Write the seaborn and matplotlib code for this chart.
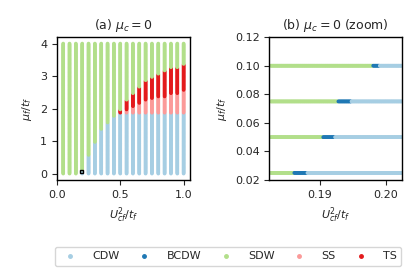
import numpy as np
import pandas as pd
import matplotlib.pyplot as plt
import seaborn as sns
from matplotlib.lines import Line2D
from matplotlib.patches import Rectangle

# phases and colours
phases = ["CDW", "BCDW", "SDW", "SS", "TS"]
colors = ["#a6cee3", "#1f78b4", "#b2df8a", "#fb9a99", "#e31a1c"]

# (a) full phase diagram: one column per U value, phase boundaries in mu
u_cols = [0.05, 0.10, 0.15, 0.20, 0.25, 0.30, 0.35, 0.40, 0.45, 0.50,
          0.55, 0.60, 0.65, 0.70, 0.75, 0.80, 0.85, 0.90, 0.95, 1.00]
cdw_top = [-1, -1, -1, 0.10, 0.55, 0.95, 1.35, 1.55, 1.75, 1.85,
           1.85, 1.85, 1.85, 1.85, 1.85, 1.85, 1.85, 1.85, 1.85, 1.85]
ss_top = [-1, -1, -1, 0.10, 0.55, 0.95, 1.35, 1.55, 1.75, 1.85,
          1.95, 2.05, 2.15, 2.25, 2.30, 2.35, 2.35, 2.45, 2.45, 2.55]
ts_top = [-1, -1, -1, 0.10, 0.55, 0.95, 1.35, 1.55, 1.75, 1.95,
          2.25, 2.45, 2.65, 2.85, 2.95, 3.05, 3.15, 3.25, 3.25, 3.35]
mu_grid = np.arange(0, 4.0001, 0.025)

# (b) zoom: rows in mu, where SDW ends and BCDW ends along U
mu_rows = [0.025, 0.050, 0.075, 0.100]
sdw_end = [0.1860, 0.1904, 0.1927, 0.1980]
bcdw_end = [0.1880, 0.1922, 0.1947, 0.1990]
u_grid = np.arange(0.1825, 0.20255, 0.0001)

rows = []
for u, c, s, t in zip(u_cols, cdw_top, ss_top, ts_top):
    for mu in mu_grid:
        if mu <= c + 1e-9:
            ph = "CDW"
        elif mu <= s + 1e-9:
            ph = "SS"
        elif mu <= t + 1e-9:
            ph = "TS"
        else:
            ph = "SDW"
        rows.append((u, mu, ph))
df_a = pd.DataFrame(rows, columns=["U", "mu", "phase"])

rows = []
for mu, a, b in zip(mu_rows, sdw_end, bcdw_end):
    for u in u_grid:
        ph = "SDW" if u < a else ("BCDW" if u < b else "CDW")
        rows.append((u, mu, ph))
df_b = pd.DataFrame(rows, columns=["U", "mu", "phase"])

sns.set_style("ticks")
plt.rcParams["font.size"] = 8

fig, (ax1, ax2) = plt.subplots(1, 2, figsize=(4.15, 2.77), dpi=100)
fig.subplots_adjust(left=0.137, right=0.969, top=0.866, bottom=0.35, wspace=0.6)

pal = dict(zip(phases, colors))
sns.scatterplot(data=df_a, x="U", y="mu", hue="phase", palette=pal,
                s=7, linewidth=0, marker="o", legend=False, ax=ax1)
ax1.add_patch(Rectangle((0.1825, 0.02), 0.02, 0.1, fill=False,
                        edgecolor="black", lw=1.0, zorder=5))
ax1.set_xticks([0.0, 0.5, 1.0])
ax1.set_yticks([0, 1, 2, 3, 4])
ax1.set_title(r"(a) $\mu_c = 0$", fontsize=9)
ax1.set_xlabel(r"$U_{cf}^2/t_f$")
ax1.set_ylabel(r"$\mu_f/t_f$")

sns.scatterplot(data=df_b, x="U", y="mu", hue="phase", palette=pal,
                s=7, linewidth=0, marker="o", legend=False, ax=ax2)
ax2.set_xlim(0.1823, 0.2025)
ax2.set_ylim(0.02, 0.12)
ax2.set_xticks([0.19, 0.20])
ax2.set_xticklabels(["0.19", "0.20"])
ax2.set_yticks([0.02, 0.04, 0.06, 0.08, 0.10, 0.12])
ax2.set_title(r"(b) $\mu_c = 0$ (zoom)", fontsize=9)
ax2.set_xlabel(r"$U_{cf}^2/t_f$")
ax2.set_ylabel(r"$\mu_f/t_f$")

for ax in (ax1, ax2):
    ax.tick_params(labelsize=8, length=3.5, width=0.8)
    for sp in ax.spines.values():
        sp.set_color("black")
        sp.set_linewidth(1.0)

handles = [Line2D([], [], marker="o", ls="", color=c, markersize=2.5) for c in colors]
fig.legend(handles, phases, loc="lower center", ncol=5, fontsize=8,
           bbox_to_anchor=(0.118, 0.02, 0.862, 0.075), mode="expand",
           handletextpad=1.0, borderpad=0.4)

fig.savefig("out.png", dpi=100)
